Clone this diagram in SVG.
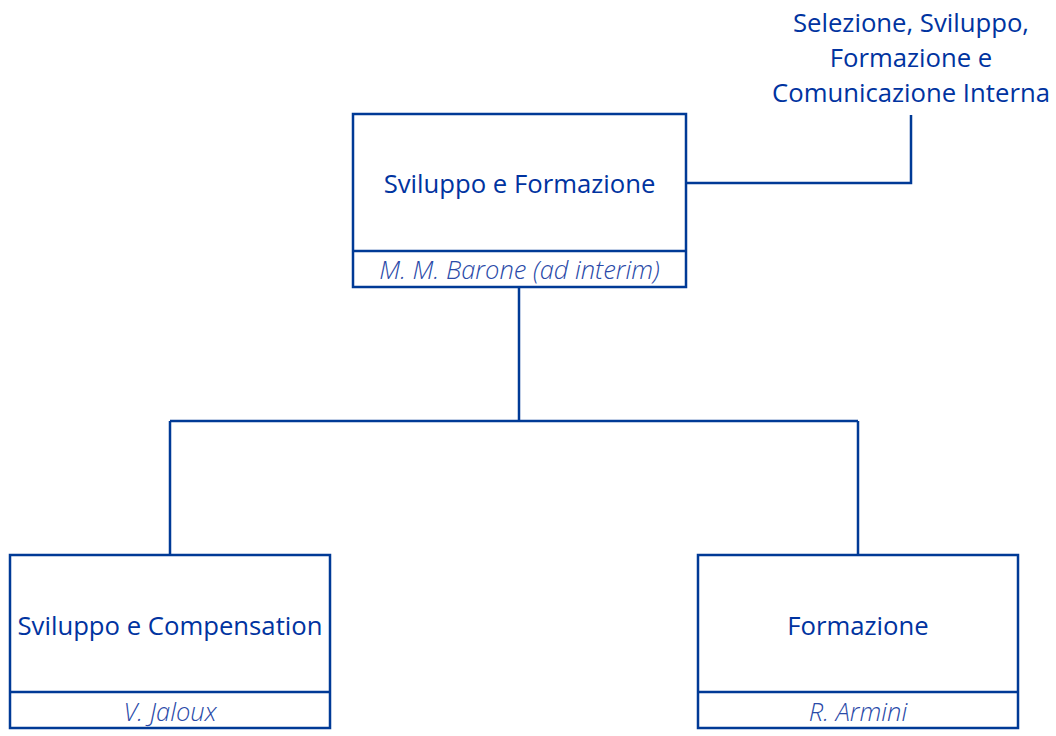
<svg xmlns="http://www.w3.org/2000/svg" width="1056" height="736" viewBox="0 0 1056 736">
<style>
.box{fill:#ffffff;stroke:#003a96;stroke-width:2.5}
.div{stroke:#003a96;stroke-width:2.5}
.con{fill:none;stroke:#003a96;stroke-width:2.5}
.name{font-family:"Open Sans","Liberation Sans",sans-serif;font-size:25.7px;fill:#0033a0;text-anchor:middle}
.person{font-family:"Open Sans","Liberation Sans",sans-serif;font-size:25.5px;font-style:italic;font-weight:300;fill:#2a4aa8;text-anchor:middle}
</style>
<rect width="1056" height="736" fill="#ffffff"/>
<g id="connectors">
<path class="con" d="M519 287 V421 M170 421 H858 M170 421 V555 M858 421 V555"/>
<path class="con" d="M686 183 H911 V115"/>
</g>
<g id="node-top">
<rect class="box" x="353" y="114" width="333" height="173"/>
<line class="div" x1="353" y1="251" x2="686" y2="251"/>
<text class="name" x="519.5" y="193">Sviluppo e Formazione</text>
<text class="person" x="519.5" y="279">M. M. Barone (ad interim)</text>
</g>
<g id="node-label">
<text class="name" x="911" y="32">Selezione, Sviluppo,</text>
<text class="name" x="911" y="67">Formazione e</text>
<text class="name" x="911" y="102">Comunicazione Interna</text>
</g>
<g id="node-left">
<rect class="box" x="10" y="555" width="320" height="173"/>
<line class="div" x1="10" y1="692" x2="330" y2="692"/>
<text class="name" x="170" y="635">Sviluppo e Compensation</text>
<text class="person" x="170" y="721">V. Jaloux</text>
</g>
<g id="node-right">
<rect class="box" x="698" y="555" width="320" height="173"/>
<line class="div" x1="698" y1="692" x2="1018" y2="692"/>
<text class="name" x="858" y="635">Formazione</text>
<text class="person" x="858" y="721">R. Armini</text>
</g>
</svg>
